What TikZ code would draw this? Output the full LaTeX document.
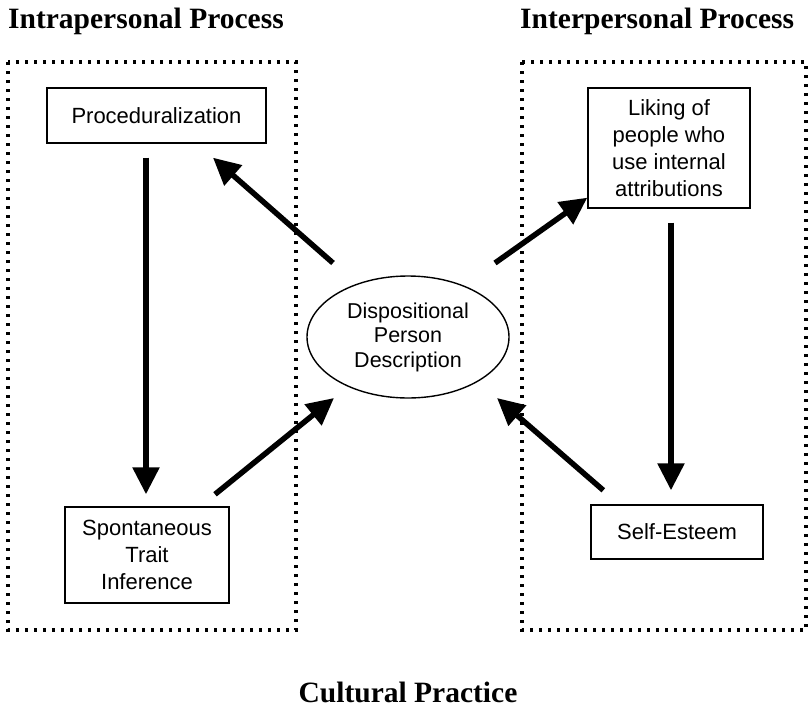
\documentclass[tikz,border=0pt]{standalone}
\usepackage{fontspec}
\setmainfont{Liberation Serif}
\setsansfont{Liberation Sans}
\usetikzlibrary{arrows.meta,shapes.geometric}
\begin{document}
\begin{tikzpicture}[x=1pt,y=-1pt,
  box/.style={draw,line width=1.4pt,rectangle,inner sep=0pt,align=center,
    font=\sffamily\fontsize{22}{27}\selectfont},
  ell/.style={draw,line width=1.4pt,ellipse,inner sep=0pt,align=center,
    minimum width=202pt,minimum height=122pt,
    font=\sffamily\fontsize{21.5}{24.5}\selectfont},
  title/.style={anchor=base west,inner sep=0pt,font=\rmfamily\bfseries\fontsize{29.5}{32}\selectfont},
  dotbox/.style={line width=3.6pt,dash pattern=on 3.4pt off 5.6pt},
  arr/.style={line width=5.5pt,-{Triangle[length=27pt,width=26pt]}}
]
\useasboundingbox (0,0) rectangle (811,707);

% titles
\node[title] (t1) at (8,28) {Intrapersonal Process};
\node[title] (t2) at (520,28) {Interpersonal Process};
\node[title,anchor=base] (t3) at (408,702) {Cultural Practice};

% dotted frames
\draw[dotbox] (8,62) rectangle (296,630);
\draw[dotbox] (522,62) rectangle (806,630);

% nodes
\node[box,minimum width=219pt,minimum height=55pt] (proc) at (156.5,115.5) {Proceduralization};
\node[box,minimum width=162pt,minimum height=120pt] (lik) at (669,148) {Liking of\\people who\\use internal\\attributions};
\node[box,minimum width=164pt,minimum height=96pt] (spont) at (147,555) {Spontaneous\\Trait\\Inference};
\node[box,minimum width=172pt,minimum height=54pt] (se) at (677,532) {Self-Esteem};
\node[ell] (dpd) at (408,337) {Dispositional\\Person\\Description};

% arrows
\draw[arr] ([xshift=-75pt,yshift=74pt]dpd.center) -- ([xshift=56.5pt,yshift=-14pt]proc.south);
\draw[arr] ([xshift=87pt,yshift=74pt]dpd.center) -- ([yshift=11pt]lik.south west);
\draw[arr] ([xshift=-10.5pt,yshift=-14pt]proc.south) -- ([xshift=-1pt,yshift=12pt]spont.north);
\draw[arr] ([xshift=68pt,yshift=12pt]spont.north) -- ([xshift=-74pt,yshift=-61pt]dpd.center);
\draw[arr] ([xshift=2pt,yshift=-14pt]lik.south) -- ([xshift=-6pt,yshift=14pt]se.north);
\draw[arr] ([xshift=13pt,yshift=14pt]se.north west) -- ([xshift=89pt,yshift=-61pt]dpd.center);
\end{tikzpicture}
\end{document}
